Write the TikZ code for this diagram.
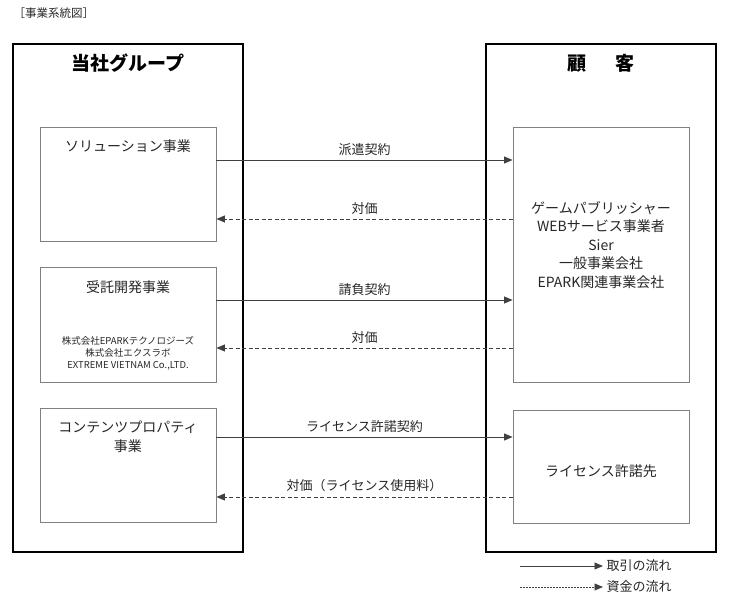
\documentclass[tikz,border=0pt]{standalone}
\usepackage{fontspec}
\setmainfont{Noto Sans CJK JP}
\usetikzlibrary{arrows.meta}

\begin{document}
\begin{tikzpicture}
   [
      x=1pt, y=-1pt,
      >={Triangle[length=8.5pt,width=7pt]},
      group/.style={rectangle, draw=black, line width=1.4pt, minimum width=230pt,
      minimum height=508pt, inner sep=0pt},
      unit/.style={rectangle, draw=black!50, line width=0.9pt, minimum width=176pt,
      inner sep=0pt},
      heading/.style={font=\fontsize{19}{22}\selectfont\bfseries},
      unitname/.style={font=\fontsize{14}{18.5}\selectfont, text=black!85, align=center},
      flow/.style={->, draw=black!75, line width=0.9pt},
      money/.style={flow, dash pattern=on 4pt off 2.5pt},
      flowtext/.style={midway, above=1pt, font=\fontsize{13}{15}\selectfont, text=black!85},
      keytext/.style={anchor=west, font=\fontsize{13}{15}\selectfont, text=black!85}
   ]
   \useasboundingbox (0,0) rectangle (729,601);

   \node[anchor=west, font=\fontsize{11.5}{13}\selectfont, text=black!85] (caption)
      at (10,13) {［事業系統図］};

   % two sides
   \node[group] (ours) at (128,298) {};
   \node[group] (clients) at (601,298) {};
   \node[heading] (ourstitle) at (128,63) {当社グループ};
   \node[heading] (clientstitle) at (601,63) {顧\hspace{1.5em}客};

   % business units
   \node[unit, minimum height=114pt] (sol) at (128,184) {};
   \node[unit, minimum height=115pt] (dev) at (128,324.5) {};
   \node[unit, minimum height=114pt] (cont) at (128,465) {};
   \node[unitname] at (128,146) {ソリューション事業};
   \node[unitname] at (128,287) {受託開発事業};
   \node[font=\fontsize{9.5}{12}\selectfont, text=black!85, align=center] (devfirms)
      at (128,353) {株式会社EPARKテクノロジーズ\\株式会社エクスラボ\\EXTREME VIETNAM Co.,LTD.};
   \node[unitname] at (128,437) {コンテンツプロパティ\\事業};

   % customers
   \node[unit, minimum height=255pt] (cust) at (601,254.5) {};
   \node[unit, minimum height=113pt] (lic) at (601,466.5) {};
   \node[unitname] at (601,245)
      {ゲームパブリッシャー\\WEBサービス事業者\\Sier\\一般事業会社\\EPARK関連事業会社};
   \node[unitname] at (601,471) {ライセンス許諾先};

   \foreach \src/\dst/\y/\txt in {sol/cust/160/派遣契約, dev/cust/300/請負契約,
      cont/lic/437/ライセンス許諾契約}
      \draw[flow] (\src.east |- 0,\y) -- (\dst.west |- 0,\y) node[flowtext] {\txt};

   \foreach \src/\dst/\y/\txt in {cust/sol/219/対価, cust/dev/348/対価,
      lic/cont/497/対価（ライセンス使用料）}
      \draw[money] (\src.west |- 0,\y) -- (\dst.east |- 0,\y) node[flowtext] {\txt};

   % key
   \coordinate (trade) at (520,566);
   \coordinate (cash) at (520,587);
   \node[keytext] (tradetext) at (603,566) {取引の流れ};
   \node[keytext] (cashtext) at (603,587) {資金の流れ};
   \draw[flow] (trade) -- (tradetext.west);
   \draw[flow, line width=0.7pt, dash pattern=on 1.5pt off 1.5pt] (cash) -- (cashtext.west);
\end{tikzpicture}
\end{document}
